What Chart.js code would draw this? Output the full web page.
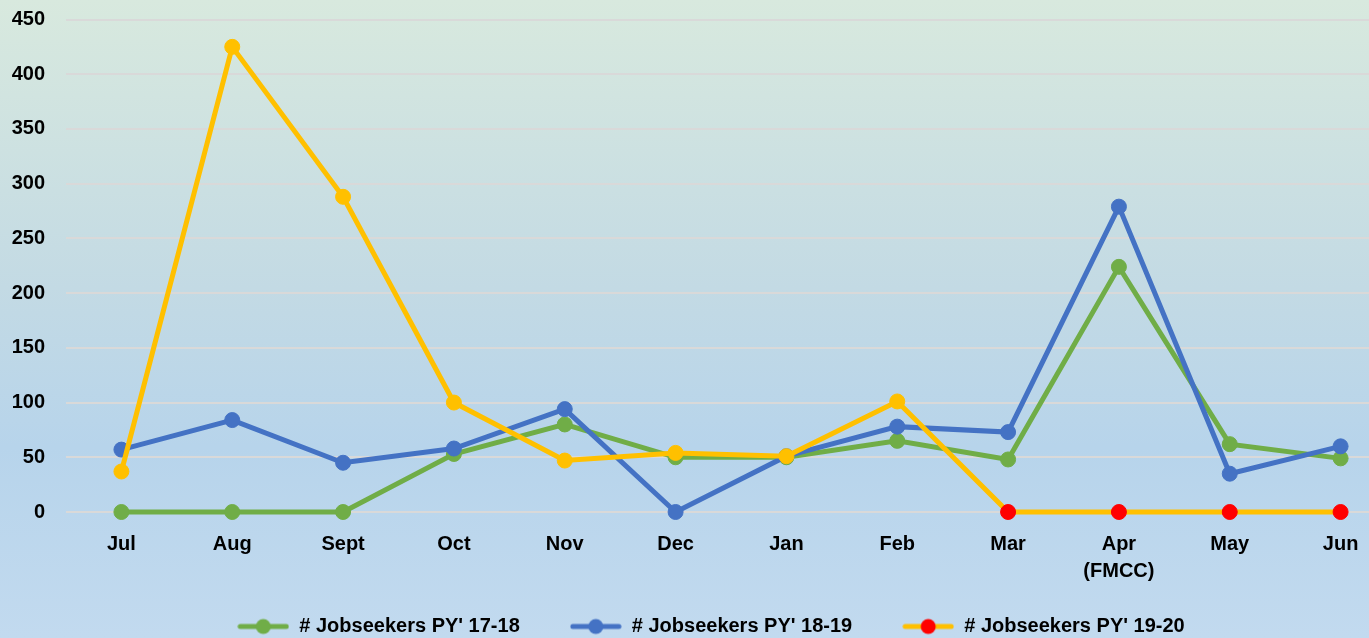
<!DOCTYPE html>
<html>
<head>
<meta charset="utf-8">
<script src="https://cdn.jsdelivr.net/npm/chart.js@4.4.1/dist/chart.umd.min.js"></script>
<style>
  html, body { margin: 0; padding: 0; overflow: hidden; }
  #wrap {
    width: 1369px; height: 638px; overflow: hidden;
    background: linear-gradient(to bottom, #d8e9de 0%, #c3dae4 45%, #b7d4eb 70%, #c2daef 100%);
  }
</style>
</head>
<body>
<div id="wrap">
  <canvas id="jobChart" width="1420" height="638"></canvas>
</div>
<script>
// chart data
var months = ['Jul', 'Aug', 'Sept', 'Oct', 'Nov', 'Dec', 'Jan', 'Feb', 'Mar', ['Apr', '(FMCC)'], 'May', 'Jun'];
var py1718 = [0, 0, 0, 53, 80, 50, 50, 65, 48, 224, 62, 49];
var py1819 = [57, 84, 45, 58, 94, 0, 51, 78, 73, 279, 35, 60];
var py1920 = [37, 425, 288, 100, 47, 54, 51, 101, 0, 0, 0, 0];
var yTicks = [0, 50, 100, 150, 200, 250, 300, 350, 400, 450];

var green = '#70ad47';
var blue = '#4472c4';
var yellow = '#ffc000';
var red = '#ff0000';

// little line + dot marker for the legend
function marker(lineColor, dotColor) {
    var c = document.createElement('canvas');
    c.width = 52;
    c.height = 18;
    var g = c.getContext('2d');
    g.strokeStyle = lineColor;
    g.lineWidth = 5;
    g.lineCap = 'round';
    g.beginPath();
    g.moveTo(3, 9);
    g.lineTo(49, 9);
    g.stroke();
    g.fillStyle = dotColor;
    g.beginPath();
    g.arc(26, 9, 7.5, 0, Math.PI * 2);
    g.fill();
    return c;
}

var markers = [marker(green, green), marker(blue, blue), marker(yellow, red)];

// red dots where the 19-20 year has no data yet
var yellowDots = py1920.map(function (v, i) { return i >= 8 ? red : yellow; });

var legendShift = {
    id: 'legendShift',
    afterLayout: function (chart) {
        var lg = chart.legend;
        lg.left += 13; lg.right += 13;
        lg.top -= 24; lg.bottom -= 24;
    }
};

Chart.defaults.font.family = "'Liberation Sans', Arial, sans-serif";
Chart.defaults.font.weight = 'bold';
Chart.defaults.font.size = 20;
Chart.defaults.color = '#000';

new Chart(document.getElementById('jobChart').getContext('2d'), {
    type: 'line',
    data: {
        labels: months,
        datasets: [{
            label: "# Jobseekers PY' 17-18",
            data: py1718,
            borderColor: green,
            backgroundColor: green,
            pointBackgroundColor: green,
            pointBorderColor: green,
            order: 3,
            clip: 12
        }, {
            label: "# Jobseekers PY' 18-19",
            data: py1819,
            borderColor: blue,
            backgroundColor: blue,
            pointBackgroundColor: blue,
            pointBorderColor: blue,
            order: 2,
            clip: 12
        }, {
            label: "# Jobseekers PY' 19-20",
            data: py1920,
            borderColor: yellow,
            backgroundColor: yellow,
            pointBackgroundColor: yellowDots,
            pointBorderColor: yellowDots,
            order: 1,
            clip: 12
        }]
    },
    options: {
        responsive: false,
        animation: false,
        devicePixelRatio: 1,
        elements: {
            line: { borderWidth: 5, tension: 0 },
            point: { radius: 7.5, borderWidth: 1, hoverRadius: 7.5 }
        },
        layout: { padding: { top: 19.5, right: 24, left: 0, bottom: -32.5 } },
        scales: {
            x: {
                offset: true,
                grid: { display: false, drawTicks: false },
                border: { display: false },
                ticks: { padding: 19, maxRotation: 0, autoSkip: false, font: { lineHeight: 1.35 } },
                afterFit: function (s) { s.height = 78.5; }
            },
            y: {
                min: 0,
                max: 450,
                afterBuildTicks: function (s) { s.ticks = yTicks.map(function (v) { return { value: v }; }); },
                grid: { color: '#d9d9d9', lineWidth: 2, drawTicks: false },
                border: { display: false },
                ticks: { padding: 21 },
                afterFit: function (s) {
                    s.width = 66;
                    s.paddingTop = 0;
                    s.paddingBottom = 0;
                }
            }
        },
        plugins: {
            tooltip: { enabled: false },
            legend: {
                position: 'bottom',
                labels: {
                    usePointStyle: true,
                    pointStyleWidth: 52,
                    padding: 50,
                    font: { size: 20 },
                    generateLabels: function (chart) {
                        return chart.data.datasets.map(function (ds, i) {
                            return {
                                text: ds.label,
                                pointStyle: markers[i],
                                fillStyle: ds.borderColor,
                                strokeStyle: ds.borderColor,
                                lineWidth: 0,
                                datasetIndex: i,
                                hidden: false
                            };
                        });
                    }
                }
            }
        }
    },
    plugins: [legendShift]
});
</script>
</body>
</html>
